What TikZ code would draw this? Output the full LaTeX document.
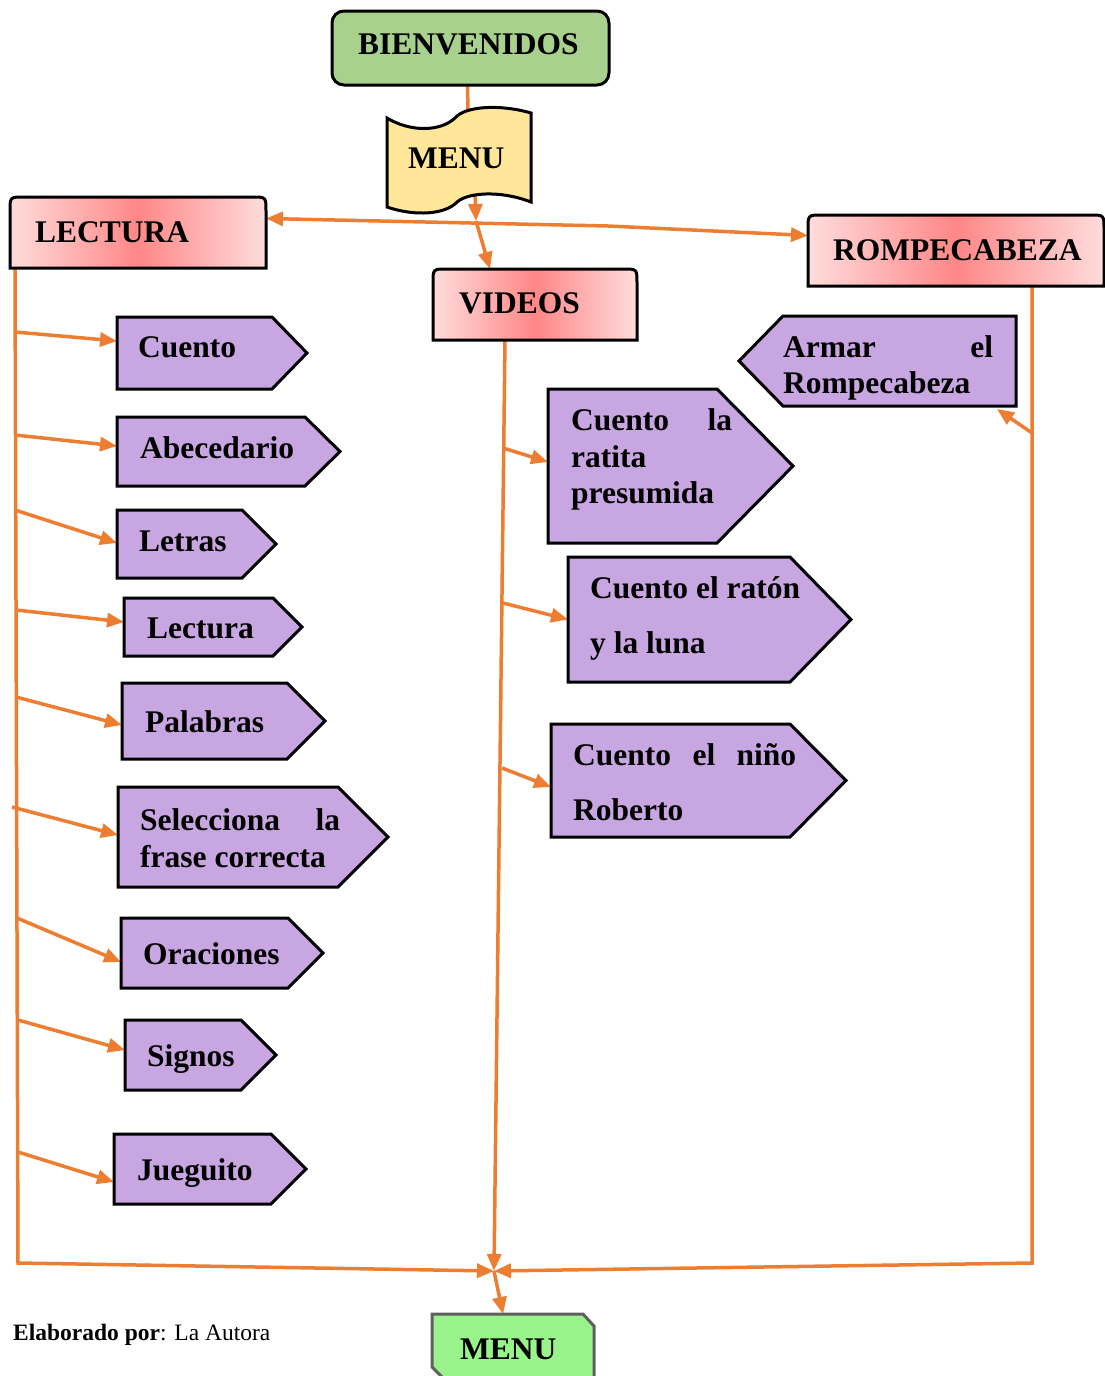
\documentclass[tikz,border=0pt]{standalone}
\usepackage{fontspec}
\setmainfont{Liberation Serif}
\usetikzlibrary{arrows.meta,backgrounds}
\definecolor{orng}{HTML}{ED7D31}
\definecolor{purp}{HTML}{C8A6E2}
\definecolor{grn}{HTML}{A9D18E}
\definecolor{ylw}{HTML}{FFE699}
\definecolor{pinkedge}{RGB}{255,220,220}
\definecolor{pinkmid}{RGB}{255,135,135}
\definecolor{lgrn}{HTML}{97F38A}
\definecolor{gborder}{HTML}{5F5F5F}
\tikzset{
  area/.style={rectangle, inner sep=0pt, outer sep=0pt},
  pshape/.style={draw=black, line width=3pt, fill=purp, line join=miter},
  pinkshape/.style={draw=black, line width=3pt, left color=pinkedge, right color=pinkedge, middle color=pinkmid},
  lbl/.style={inner sep=0pt, anchor=base west, font=\bfseries\fontsize{31.5}{37}\selectfont},
  conn/.style={draw=orng, line width=3.5pt, -{Triangle[length=17pt,width=14pt]}},
  plain/.style={draw=orng, line width=3.5pt},
}
\newcommand\sigR[6]{%
  \node[area, minimum width={#4-#2}, minimum height={#5-#3}] (#1) at ({(#2+#4)/2},{(#3+#5)/2}) {};
  \coordinate (#1-tip) at (#6,{(#3+#5)/2});
  \path[pshape] (#1.north west) -- (#1.north east) -- (#1-tip) -- (#1.south east) -- (#1.south west) -- cycle;}
\newcommand\sigL[6]{%
  \node[area, minimum width={#4-#2}, minimum height={#5-#3}] (#1) at ({(#2+#4)/2},{(#3+#5)/2}) {};
  \coordinate (#1-tip) at (#6,{(#3+#5)/2});
  \path[pshape] (#1.north east) -- (#1.north west) -- (#1-tip) -- (#1.south west) -- (#1.south east) -- cycle;}
\newcommand\pinkbox[5]{%
  \node[area, minimum width={#4-#2}, minimum height={#5-#3}] (#1) at ({(#2+#4)/2},{(#3+#5)/2}) {};
  \path[pinkshape] (#1.south west) -- ([yshift=-14pt]#1.north west) .. controls (#1.north west) .. ([xshift=14pt]#1.north west)
    -- ([xshift=-14pt]#1.north east) .. controls (#1.north east) .. ([yshift=-14pt]#1.north east) -- (#1.south east) -- cycle;}
\begin{document}
\begin{tikzpicture}[x=1pt,y=-1pt]
\useasboundingbox (0,0) rectangle (1105,1376);
\clip (0,0) rectangle (1105,1376);
% top
\node[area, draw=black, line width=3pt, rounded corners=12pt, fill=grn, minimum width=277, minimum height=74] (bienv) at (470.5,48) {};
\node[lbl] (t-bienv) at (358,54) {BIENVENIDOS};
\node[area, minimum width=144, minimum height=89] (menu1) at (459,162) {};
\path[draw=black, line width=3pt, fill=ylw] (387,118) .. controls (410,132) and (440,132) .. (455,118)
  .. controls (465,106) and (500,104) .. (531,113) -- (531,202)
  .. controls (500,190) and (465,192) .. (455,204) .. controls (440,216) and (410,215) .. (387,207) -- cycle;
\node[lbl] (t-menu1) at (408,168) {MENU};
% pink boxes
\pinkbox{lectura}{10}{197}{266}{268}
\pinkbox{videos}{433}{269}{637}{340}
\pinkbox{rompe}{808}{215}{1104}{286}
\node[lbl] (t-lectura) at (35,242) {LECTURA};
\node[lbl] (t-videos) at (459,313) {VIDEOS};
\node[lbl] (t-rompe) at (833,260) {ROMPECABEZA};
% purple boxes, left column
\sigR{cuento}{117}{317}{272}{389}{307}
\sigR{abeced}{117}{417}{305}{486}{340}
\sigR{letras}{117}{510}{242}{578}{276}
\sigR{lecturab}{124}{598}{273}{656}{302}
\sigR{palabras}{122}{683}{287}{759}{325}
\sigR{selecc}{118}{787}{338}{887}{388}
\sigR{oraciones}{121}{918}{288}{988}{323}
\sigR{signos}{125}{1020}{241}{1090}{276}
\sigR{jueguito}{114}{1134}{271}{1204}{306}
\node[lbl] (t-cuento) at (138,357) {Cuento};
\node[lbl] (t-abeced) at (140,458) {Abecedario};
\node[lbl] (t-letras) at (139,551) {Letras};
\node[lbl] (t-lecturab) at (147,638) {Lectura};
\node[lbl] (t-palabras) at (145,732) {Palabras};
\node[lbl] (t-selecc1) at (140,830) {\makebox[200pt][s]{Selecciona la}};
\node[lbl] (t-selecc2) at (140,867) {frase correcta};
\node[lbl] (t-oraciones) at (143,964) {Oraciones};
\node[lbl] (t-signos) at (147,1066) {Signos};
\node[lbl] (t-jueguito) at (137,1180) {Jueguito};
% middle column
\sigR{ratita}{548}{389}{717}{543}{793}
\sigR{raton}{568}{557}{790}{682}{851}
\sigR{roberto}{551}{724}{790}{837}{846}
\node[lbl] (t-ratita1) at (571,430) {\makebox[161pt][s]{Cuento la}};
\node[lbl] (t-ratita2) at (571,467) {ratita};
\node[lbl] (t-ratita3) at (571,503) {presumida};
\node[lbl] (t-raton1) at (590,598) {Cuento el ratón};
\node[lbl] (t-raton2) at (590,653) {y la luna};
\node[lbl] (t-roberto1) at (573,765) {\makebox[223pt][s]{Cuento el niño}};
\node[lbl] (t-roberto2) at (573,820) {Roberto};
% right column
\sigL{armar}{783}{316}{1016}{406}{739}
\node[lbl] (t-armar1) at (783,357) {\makebox[210pt][s]{Armar el}};
\node[lbl] (t-armar2) at (783,393) {Rompecabeza};
% bottom menu
\node[area, minimum width=162, minimum height=68] (menu2) at (513,1348) {};
\path[draw=gborder, line width=3pt, fill=lgrn] (menu2.north west) -- ([xshift=-11pt]menu2.north east) -- ([yshift=-12pt]menu2.north east)
  -- (menu2.south east) -- ([xshift=15pt]menu2.south west) -- ([yshift=15pt]menu2.south west) -- cycle;
\node[lbl] (t-menu2) at (460,1359) {MENU};
\node[inner sep=0pt, anchor=base west, font=\fontsize{23.5}{28}\selectfont] (t-autor) at (13,1340) {\textbf{Elaborado por}: La Autora};
% coordinates
\coordinate (jn) at (494,1271);
\coordinate (hj) at (476,221);
\coordinate (kink) at (608,226);
\coordinate (lbot) at (18,1263);
\coordinate (rbot) at (1032,1263);
\begin{scope}[on background layer]
\draw[plain] ([xshift=-3pt]bienv.south) -- ([xshift=10pt]menu1.center);
\draw[conn] ([xshift=15pt]menu1.center) -- (hj);
\draw[conn] (hj) -- ([xshift=-45pt]videos.north);
\draw[plain, {Triangle[length=17pt,width=14pt]}-{Triangle[length=17pt,width=14pt]}] ([yshift=14pt]lectura.east) -- (kink) -- ([yshift=15pt]rompe.west);
% trunks
\draw[conn] ([xshift=5pt]lectura.south west) -- (lbot) -- (jn);
\draw[conn] ([xshift=-30pt]videos.south) -- (jn);
\draw[conn] ([xshift=76pt]rompe.south) -- (rbot) -- (jn);
\draw[conn] (jn) -- ([xshift=-10pt]menu2.north);
% left branches
\draw[conn] (15,332) -- ([yshift=12pt]cuento.west);
\draw[conn] (15,435) -- ([yshift=5.5pt]abeced.west);
\draw[conn] (15,510) -- ([yshift=1pt]letras.west);
\draw[conn] (16,610) -- ([yshift=5pt]lecturab.west);
\draw[conn] (16,697) -- ([yshift=-4pt]palabras.west);
\draw[conn] (12,807) -- ([yshift=2pt]selecc.west);
\draw[conn] (17,918) -- ([yshift=-9pt]oraciones.west);
\draw[conn] (18,1020) -- ([yshift=5pt]signos.west);
\draw[conn] (18,1152) -- ([yshift=-13pt]jueguito.west);
% middle branches
\draw[conn] (503,448) -- ([yshift=4pt]ratita.west);
\draw[conn] (503,603) -- (raton.west);
\draw[conn] (502,768) -- ([yshift=-6.5pt]roberto.west);
% right branch
\draw[conn] (1032,433) -- ([xshift=-19pt,yshift=-3pt]armar.south east);
\end{scope}
\end{tikzpicture}
\end{document}
